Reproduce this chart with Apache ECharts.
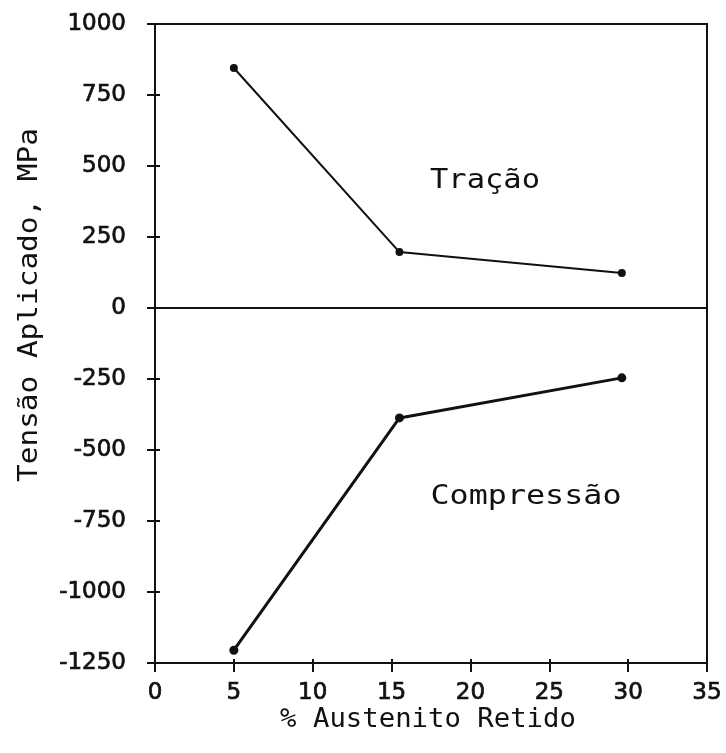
<!DOCTYPE html>
<html>
<head>
<meta charset="utf-8">
<script src="https://cdn.jsdelivr.net/npm/echarts@6/dist/echarts.min.js"></script>
<style>
  html, body { margin: 0; padding: 0; background: #fff; }
  #chart { width: 726px; height: 753px; }
</style>
</head>
<body>
<div id="chart"></div>
<script>
// Applied stress vs. retained austenite
const austenite = [5, 15.5, 29.6];
const tracao = [845, 197, 123];
const compressao = [-1205, -387, -246];
const yTicks = { min: -1250, max: 1000, step: 250 };
const xTicks = { min: 0, max: 35, step: 5 };

const MONO = '"DejaVu Sans Mono", "Liberation Mono", monospace';
const SANS = '"DejaVu Sans", sans-serif';
const INK = '#111';

const chart = echarts.init(document.getElementById('chart'), null, { renderer: 'canvas' });

const pairs = (ys) => austenite.map((x, i) => [x, ys[i]]);
const plain = (v) => String(v);

// heavier plotter-style digits: regular face with a thin outline
const tickLabel = {
  color: INK, fontFamily: SANS, fontWeight: 'normal', fontSize: 23, formatter: plain,
  textBorderColor: INK, textBorderWidth: 0.7
};

chart.setOption({
  backgroundColor: '#fff',
  animation: false,
  grid: {
    left: 155, right: 19, top: 24, bottom: 90,
    show: true, borderColor: INK, borderWidth: 2, backgroundColor: 'transparent'
  },
  xAxis: [
    {
      type: 'value', min: xTicks.min, max: xTicks.max, interval: xTicks.step,
      axisLine: { onZero: false, lineStyle: { color: INK, width: 2 } },
      axisTick: { show: true, length: 9, lineStyle: { color: INK, width: 2 } },
      axisLabel: Object.assign({ margin: 19 }, tickLabel),
      splitLine: { show: false }
    },
    {
      type: 'value', min: xTicks.min, max: xTicks.max, interval: xTicks.step, position: 'bottom',
      axisLine: { show: false, onZero: false },
      axisTick: { show: true, inside: true, length: 4, lineStyle: { color: INK, width: 2 } },
      axisLabel: { show: false }, splitLine: { show: false }
    }
  ],
  yAxis: [
    {
      type: 'value', min: yTicks.min, max: yTicks.max, interval: yTicks.step,
      axisLine: { show: true, onZero: false, lineStyle: { color: INK, width: 2 } },
      axisTick: { show: true, length: 8, lineStyle: { color: INK, width: 2 } },
      axisLabel: Object.assign({ margin: 29 }, tickLabel),
      splitLine: { show: false }
    },
    {
      type: 'value', min: yTicks.min, max: yTicks.max, interval: yTicks.step, position: 'left',
      axisLine: { show: false, onZero: false },
      axisTick: { show: true, inside: true, length: 5, lineStyle: { color: INK, width: 2 } },
      axisLabel: { show: false }, splitLine: { show: false }
    }
  ],
  series: [
    {
      name: 'Tração', type: 'line', data: pairs(tracao),
      symbol: 'circle', symbolSize: 8,
      itemStyle: { color: INK },
      lineStyle: { color: INK, width: 2 },
      markLine: {
        silent: true, symbol: ['none', 'none'], label: { show: false },
        lineStyle: { color: INK, width: 2, type: 'solid' },
        data: [{ yAxis: 0 }]
      }
    },
    {
      name: 'Compressão', type: 'line', data: pairs(compressao),
      symbol: 'circle', symbolSize: 9,
      itemStyle: { color: INK },
      lineStyle: { color: INK, width: 3 }
    }
  ],
  graphic: [
    {
      type: 'text', x: 485, y: 181, scaleX: 1.17,
      style: { text: 'Tração', font: '26px ' + MONO, fill: INK, textAlign: 'center', textVerticalAlign: 'middle' }
    },
    {
      type: 'text', x: 526, y: 497, scaleX: 1.22,
      style: { text: 'Compressão', font: '26px ' + MONO, fill: INK, textAlign: 'center', textVerticalAlign: 'middle' }
    },
    {
      type: 'text', x: 428, y: 720, scaleX: 1.05,
      style: { text: '% Austenito Retido', font: '26px ' + MONO, fill: INK, textAlign: 'center', textVerticalAlign: 'middle' }
    },
    {
      type: 'text', x: 30, y: 305, rotation: Math.PI / 2, scaleX: 1.13,
      style: { text: 'Tensão Aplicado, MPa', font: '26px ' + MONO, fill: INK, textAlign: 'center', textVerticalAlign: 'middle' }
    }
  ]
});
</script>
</body>
</html>
